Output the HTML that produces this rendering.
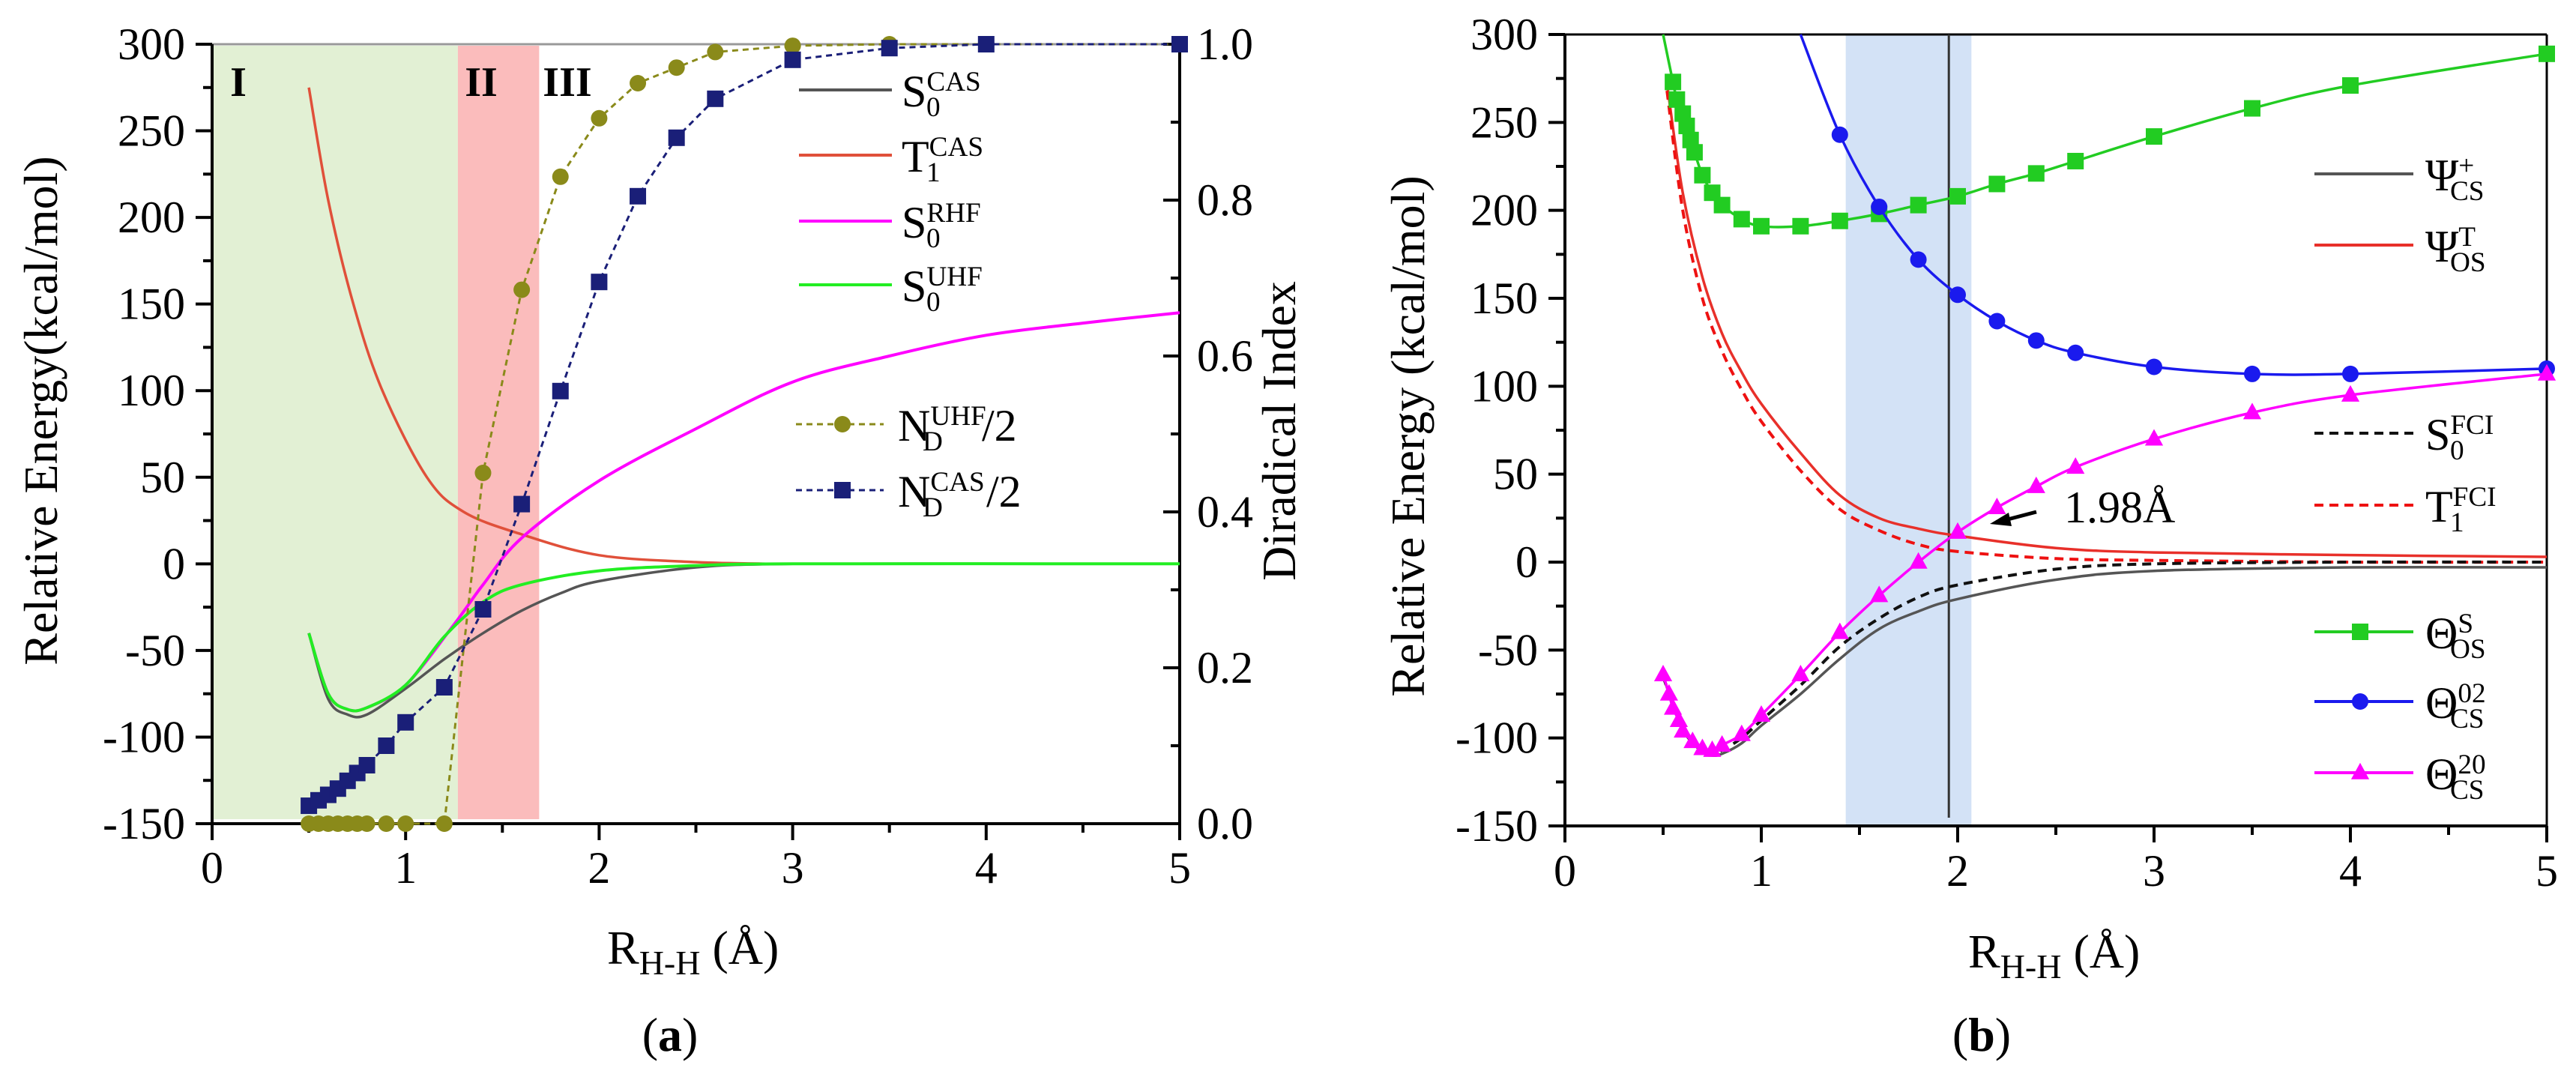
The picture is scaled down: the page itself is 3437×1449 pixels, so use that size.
<!DOCTYPE html>
<html><head><meta charset="utf-8">
<style>
html,body{margin:0;padding:0;background:#fff;}
svg, svg text, svg tspan{font-family:"Liberation Serif","DejaVu Serif",serif;}
</style></head>
<body>
<svg id="fig" width="3437" height="1444" viewBox="0 0 3437 1444" xmlns="http://www.w3.org/2000/svg" font-family="Liberation Serif, DejaVu Serif, serif">
<rect x="0" y="0" width="3437" height="1444" fill="#fff"/>
<g id="pa" font-family="Liberation Serif, serif"></g>
<g id="pb" font-family="Liberation Serif, serif"></g>
</svg>
<script>
// ---------- Panel (a) data ----------
const aCasX = [0.5,0.6,0.7,0.8,1.0,1.2,1.4,1.6,1.8,2.0,2.5,3.0,4.0,5.0];
const aS0Cas = [-40,-78,-87,-87,-72,-55,-40,-27,-17,-10,-2,0,0,0];
const aT1X = [0.5,0.6,0.73,0.88,1.11,1.3,1.6,2.0,2.5,2.9];
const aT1Cas = [275,210,150,100,50,30,17,5,1,0];
const aRhfX = [0.5,0.6,0.7,0.8,1.0,1.25,1.4,1.6,2.0,2.5,3.0,3.5,4.0,4.5,5.0];
const aS0Rhf = [-40,-75,-84,-83,-70,-35,-12,15,48,78,105,120,132,139,145];
const aUhfX = [0.5,0.6,0.7,0.8,1.0,1.2,1.4,1.6,2.0,2.5,3.0,5.0];
const aS0Uhf = [-40,-75,-84,-83,-70,-42,-22,-12,-4,-1,0,0];
const aNdX = [0.5,0.55,0.6,0.65,0.7,0.75,0.8,0.9,1.0,1.2,1.4,1.6,1.8,2.0,2.2,2.4,2.6,3.0,3.5,4.0,5.0];
const aNdUhf = [0,0,0,0,0,0,0,0,0,0,0.45,0.685,0.83,0.905,0.95,0.97,0.99,0.998,1,1,1];
const aNdCas = [0.023,0.03,0.037,0.045,0.055,0.065,0.075,0.1,0.13,0.175,0.275,0.41,0.555,0.695,0.805,0.88,0.93,0.98,0.995,1,1];
const aYTicks = [300,250,200,150,100,50,0,-50,-100,-150];
const aY2Ticks = ["0.0","0.2","0.4","0.6","0.8","1.0"];
const xTicks = [0,1,2,3,4,5];
// ---------- Panel (b) data ----------
const bCsX = [0.5,0.6,0.7,0.75,0.8,0.9,1.0,1.2,1.4,1.6,1.8,2.0,2.5,3.0,4.0,5.0];
const bPsiCs = [-65,-95,-108,-110,-109,-103,-93,-75,-55,-38,-28,-21,-10,-5,-3,-3];
const bS0Fci = [-65,-95,-107,-109,-107,-100,-90,-70,-48,-32,-20,-13,-4,-1,0,0];
const bTX = [0.52,0.6,0.7,0.8,0.9,1.0,1.2,1.4,1.6,1.8,2.0,2.5,3.0,4.0,5.0];
const bPsiOs = [272,210,162,130,108,90,62,38,25,19,15,8,5.5,4,3];
const bT1Fci = [268,200,150,120,98,80,52,30,18,10,6,2,1,0,0];
const bOsX = [0.55,0.57,0.6,0.62,0.64,0.66,0.7,0.75,0.8,0.9,1.0,1.2,1.4,1.6,1.8,2.0,2.2,2.4,2.6,3.0,3.5,4.0,5.0];
const bThetaOs = [273,263,255,248,240,233,220,210,203,195,191,191,194,198,203,208,215,221,228,242,258,271,289];
const b02X = [1.4,1.6,1.8,2.0,2.2,2.4,2.6,3.0,3.5,4.0,5.0];
const bTheta02 = [243,202,172,152,137,126,119,111,107,107,110];
const b20X = [0.5,0.53,0.55,0.58,0.6,0.65,0.7,0.75,0.8,0.9,1.0,1.2,1.4,1.6,1.8,2.0,2.2,2.4,2.6,3.0,3.5,4.0,5.0];
const bTheta20 = [-64,-75,-83,-90,-96,-102,-106,-107,-104,-98,-87,-64,-40,-19,0,17,31,43,54,70,85,95,107];

const NS="http://www.w3.org/2000/svg";
const FF="Liberation Serif, DejaVu Serif, serif";
function mk(parent,tag,attrs,text){const e=document.createElementNS(NS,tag);for(const k in attrs)e.setAttribute(k,attrs[k]);if(tag==="text")e.setAttribute("font-family",FF);if(text!==undefined)e.textContent=text;parent.appendChild(e);return e;}
function smooth(pts){if(pts.length<2)return"";let d="M"+pts[0][0].toFixed(1)+","+pts[0][1].toFixed(1);for(let i=0;i<pts.length-1;i++){const p0=pts[Math.max(0,i-1)],p1=pts[i],p2=pts[i+1],p3=pts[Math.min(pts.length-1,i+2)];const c1=[p1[0]+(p2[0]-p0[0])/6,p1[1]+(p2[1]-p0[1])/6],c2=[p2[0]-(p3[0]-p1[0])/6,p2[1]-(p3[1]-p1[1])/6];d+="C"+c1[0].toFixed(1)+","+c1[1].toFixed(1)+" "+c2[0].toFixed(1)+","+c2[1].toFixed(1)+" "+p2[0].toFixed(1)+","+p2[1].toFixed(1);}return d;}
function mathLabel(g,x,y,base,sub,sup,size){
  const t=mk(g,"text",{x:x,y:y,"font-size":size,fill:"#000"});
  mk(t,"tspan",{},base);
  const s=size*0.62;
  if(sup){mk(t,"tspan",{dy:-size*0.35,"font-size":s},sup);}
  if(sub){mk(g,"text",{x:x+size*0.55,y:y+size*0.22,"font-size":s,fill:"#000"},sub);}
  return t;
}
function marker(g,type,x,y,color,sz){
  if(type==="sq")return mk(g,"rect",{x:x-sz/2,y:y-sz/2,width:sz,height:sz,fill:color});
  if(type==="ci")return mk(g,"circle",{cx:x,cy:y,r:sz/2,fill:color});
  if(type==="tr")return mk(g,"polygon",{points:`${x},${y-sz*0.6} ${x-sz*0.55},${y+sz*0.4} ${x+sz*0.55},${y+sz*0.4}`,fill:color});
}

// ================= Panel (a) =================
(function(){
const g=document.getElementById("pa");
const X0=283,X1=1574,Yt=59,Yb=1099;
const sx=v=>X0+(X1-X0)*v/5;
const sy=v=>Yb-(Yb-Yt)*(v+150)/450;
const sy2=v=>Yb-(Yb-Yt)*v;
let r=mk(g,"rect",{x:X0,y:61,width:sx(1.27)-X0,height:1093-61,fill:"#e2f0d4"});

r=mk(g,"rect",{x:sx(1.27),y:61,width:sx(1.69)-sx(1.27),height:1093-61,fill:"#fbbcbc"});

const lab=[["I",318],["II",642],["III",757]];
lab.forEach(l=>{const t=mk(g,"text",{x:l[1],y:128,"font-size":56,"font-weight":"bold",fill:"#000","text-anchor":"middle"},l[0]);});
mk(g,"line",{x1:X0,y1:Yt,x2:X1,y2:Yt,stroke:"#999","stroke-width":3});
mk(g,"line",{x1:X0,y1:Yt,x2:X0,y2:Yb,stroke:"#000","stroke-width":4});
mk(g,"line",{x1:X0,y1:Yb,x2:X1,y2:Yb,stroke:"#000","stroke-width":4});
mk(g,"line",{x1:X1,y1:Yt,x2:X1,y2:Yb,stroke:"#000","stroke-width":4});
for(let v=-150;v<=300;v+=25){const y=sy(v);const maj=v%50===0;mk(g,"line",{x1:X0-(maj?22:12),y1:y,x2:X0,y2:y,stroke:"#000","stroke-width":4});}
aYTicks.forEach(v=>{const t=mk(g,"text",{x:247,y:sy(v)+20,"font-size":60,"text-anchor":"end",fill:"#000"},String(v));});
for(let v=0;v<=5;v+=0.5){const x=sx(v);const maj=Math.abs(v-Math.round(v))<1e-6;mk(g,"line",{x1:x,y1:Yb,x2:x,y2:Yb+(maj?22:12),stroke:"#000","stroke-width":4});}
xTicks.forEach(v=>{const t=mk(g,"text",{x:sx(v),y:1178,"font-size":60,"text-anchor":"middle",fill:"#000"},String(v));});
for(let i=0;i<=10;i++){const v=i/10;const y=sy2(v);mk(g,"line",{x1:X1-(i%2===0?22:12),y1:y,x2:X1,y2:y,stroke:"#000","stroke-width":4});}
aY2Ticks.forEach(s=>{const t=mk(g,"text",{x:1597,y:sy2(parseFloat(s))+20,"font-size":60,fill:"#000"},s);});
let t=mk(g,"text",{x:0,y:0,"font-size":64,"text-anchor":"middle",transform:"translate(76,548) rotate(-90)",fill:"#000"},"Relative Energy(kcal/mol)");

t=mk(g,"text",{x:0,y:0,"font-size":64,"text-anchor":"middle",transform:"translate(1728,575) rotate(-90)",fill:"#000"},"Diradical Index");

t=mk(g,"text",{x:810,y:1286,"font-size":64,fill:"#000"});mk(t,"tspan",{},"R");mk(t,"tspan",{dy:14,"font-size":46},"H-H");mk(t,"tspan",{dy:-14},"\u00a0(Å)");

t=mk(g,"text",{x:894,y:1402,"font-size":64,"text-anchor":"middle",fill:"#000"});mk(t,"tspan",{},"(");mk(t,"tspan",{"font-weight":"bold"},"a");mk(t,"tspan",{},")");

function curve(xs,ys,color,name,w){const p=mk(g,"path",{d:smooth(xs.map((x,i)=>[sx(x),sy(ys[i])])),fill:"none",stroke:color,"stroke-width":w||3.5});}
curve(aT1X,aT1Cas,"#e0503a","t1-cas-line");
curve(aRhfX,aS0Rhf,"#ff00ff","s0-rhf-line",4);
curve(aCasX,aS0Cas,"#555555","s0-cas-line");
curve(aUhfX,aS0Uhf,"#22ee22","s0-uhf-line",4);
function nd(ys,color,type,name){
  const pts=aNdX.map((x,i)=>[sx(x),sy2(ys[i])]);
  const p=mk(g,"polyline",{points:pts.map(q=>q.join(",")).join(" "),fill:"none",stroke:color,"stroke-width":3,"stroke-dasharray":"8,6"});
  
  pts.forEach(q=>{const m=marker(g,type,q[0],q[1],color,22);});
}
nd(aNdUhf,"#8a8a1a","ci","nd-uhf");
nd(aNdCas,"#1a1f78","sq","nd-cas");
const L=[["#555555","S","0","CAS",120],["#e0503a","T","1","CAS",207],["#ff00ff","S","0","RHF",295],["#22ee22","S","0","UHF",380]];
L.forEach(l=>{const lg=mk(g,"g",{});
 mk(lg,"line",{x1:1066,y1:l[4],x2:1190,y2:l[4],stroke:l[0],"stroke-width":4});
 mathLabel(lg,1203,l[4]+22,l[1],l[2],l[3],60);});
const L2=[["#8a8a1a","ci","UHF",566],["#1a1f78","sq","CAS",654]];
L2.forEach(l=>{const lg=mk(g,"g",{});
 mk(lg,"line",{x1:1062,y1:l[3],x2:1179,y2:l[3],stroke:l[0],"stroke-width":3,"stroke-dasharray":"8,6"});
 marker(lg,l[1],1124,l[3],l[0],22);
 mathLabel(lg,1198,l[3]+22,"N","D",l[2],60);
 mk(lg,"text",{x:1198+(l[2]==="UHF"?112:118),y:l[3]+22,"font-size":60,fill:"#000"},"/2");});
})();

// ================= Panel (b) =================
(function(){
const g=document.getElementById("pb");
const X0=2088,X1=3398,Yt=46,Yb=1102;
const sx=v=>X0+(X1-X0)*v/5;
const sy=v=>Yb-(Yb-Yt)*(v+150)/450;
let r=mk(g,"rect",{x:sx(1.43),y:Yt,width:sx(2.07)-sx(1.43),height:Yb-Yt,fill:"#d3e2f6"});

mk(g,"line",{x1:X0,y1:Yt,x2:X1,y2:Yt,stroke:"#000","stroke-width":3});
mk(g,"line",{x1:X0,y1:Yt,x2:X0,y2:Yb,stroke:"#000","stroke-width":4});
mk(g,"line",{x1:X0,y1:Yb,x2:X1,y2:Yb,stroke:"#000","stroke-width":4});
mk(g,"line",{x1:X1,y1:Yt,x2:X1,y2:Yb,stroke:"#000","stroke-width":3});
for(let v=-150;v<=300;v+=25){const y=sy(v);const maj=v%50===0;mk(g,"line",{x1:X0-(maj?22:12),y1:y,x2:X0,y2:y,stroke:"#000","stroke-width":4});}
aYTicks.forEach(v=>{const t=mk(g,"text",{x:2052,y:sy(v)+20,"font-size":60,"text-anchor":"end",fill:"#000"},String(v));});
for(let v=0;v<=5;v+=0.5){const x=sx(v);const maj=Math.abs(v-Math.round(v))<1e-6;mk(g,"line",{x1:x,y1:Yb,x2:x,y2:Yb+(maj?22:12),stroke:"#000","stroke-width":4});}
xTicks.forEach(v=>{const t=mk(g,"text",{x:sx(v),y:1182,"font-size":60,"text-anchor":"middle",fill:"#000"},String(v));});
let t=mk(g,"text",{x:0,y:0,"font-size":64,"text-anchor":"middle",transform:"translate(1900,582) rotate(-90)",fill:"#000"},"Relative Energy (kcal/mol)");

t=mk(g,"text",{x:2626,y:1291,"font-size":64,fill:"#000"});mk(t,"tspan",{},"R");mk(t,"tspan",{dy:14,"font-size":46},"H-H");mk(t,"tspan",{dy:-14},"\u00a0(Å)");

t=mk(g,"text",{x:2644,y:1402,"font-size":64,"text-anchor":"middle",fill:"#000"});mk(t,"tspan",{},"(");mk(t,"tspan",{"font-weight":"bold"},"b");mk(t,"tspan",{},")");

let vl=mk(g,"line",{x1:sx(1.955),y1:Yt,x2:sx(1.955),y2:1091,stroke:"#333","stroke-width":3});

function curve(xs,ys,color,name,dash,w){const a={d:smooth(xs.map((x,i)=>[sx(x),sy(ys[i])])),fill:"none",stroke:color,"stroke-width":w||3.5};if(dash)a["stroke-dasharray"]=dash;const p=mk(g,"path",a);}
curve(bTX,bPsiOs,"#e8302a","psi-os-t-line");
curve(bTX,bT1Fci,"#ee1111","t1-fci-line","12,8",4);
curve(bCsX,bPsiCs,"#555","psi-cs-plus-line");
curve(bCsX,bS0Fci,"#111","s0-fci-line","12,8",4);
function ser(xs,ys,color,type,name,start){
  const clip=v=>Math.min(v,300);
  let pts=xs.map((x,i)=>[sx(x),sy(clip(ys[i]))]);
  if(start)pts=[[sx(start[0]),sy(start[1])]].concat(pts);
  const p=mk(g,"path",{d:smooth(pts),fill:"none",stroke:color,"stroke-width":3.5});
  
  xs.forEach((x,i)=>{const m=marker(g,type,sx(x),sy(ys[i]),color,22);});
}
ser(bOsX,bThetaOs,"#22cc22","sq","theta-os-s",[0.5,300]);
ser(b02X,bTheta02,"#1a1aee","ci","theta-cs-02",[1.2,300]);
ser(b20X,bTheta20,"#ff00ff","tr","theta-cs-20");
let an=mk(g,"text",{x:2754,y:697,"font-size":60,fill:"#000"},"1.98Å");

mk(g,"line",{x1:2717,y1:683,x2:2675,y2:694,stroke:"#000","stroke-width":5});
mk(g,"polygon",{points:"2655,699 2680,684 2684,702",fill:"#000"});
const L=[["#555",null,"Ψ","CS","+",232,null],["#e8302a",null,"Ψ","OS","T",327,null],["#111","12,8","S","0","FCI",578,null],["#ee1111","12,8","T","1","FCI",674,null],
 ["#22cc22",null,"Θ","OS","S",843,"sq"],["#1a1aee",null,"Θ","CS","02",936,"ci"],["#ff00ff",null,"Θ","CS","20",1031,"tr"]];
L.forEach(l=>{const lg=mk(g,"g",{});
 const a={x1:3088,y1:l[5],x2:3220,y2:l[5],stroke:l[0],"stroke-width":4};if(l[1])a["stroke-dasharray"]=l[1];
 mk(lg,"line",a);
 if(l[6])marker(lg,l[6],3149,l[5],l[0],22);
 mathLabel(lg,3236,l[5]+22,l[2],l[3],l[4],60);});
})();
</script>
</body></html>
